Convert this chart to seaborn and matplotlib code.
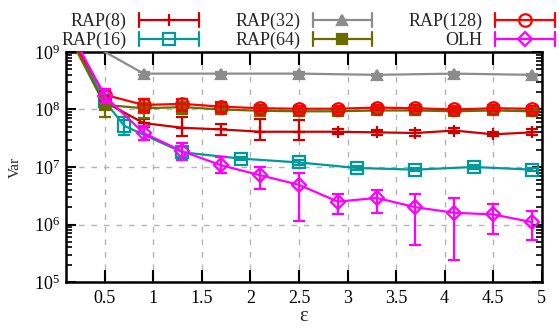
import numpy as np
import pandas as pd
import matplotlib
matplotlib.use("Agg")
import matplotlib.pyplot as plt
import seaborn as sns
from matplotlib.lines import Line2D
from matplotlib.legend_handler import HandlerBase
from matplotlib.ticker import LogLocator, NullFormatter, FuncFormatter, FixedLocator

# ---- data -------------------------------------------------------------
eps_04 = [0.1, 0.5, 0.9, 1.3, 1.7, 2.1, 2.5, 2.9, 3.3, 3.7, 4.1, 4.5, 4.9]
eps_16 = [0.1, 0.5, 0.7, 1.3, 1.9, 2.5, 3.1, 3.7, 4.3, 4.9]
eps_32 = [0.1, 0.9, 1.7, 2.5, 3.3, 4.1, 4.9]

rap8_var = [2.5e9, 1.35e8, 5.8e7, 4.8e7, 4.5e7, 4.1e7, 4.1e7, 4.1e7, 4.0e7, 3.9e7, 4.3e7, 3.7e7, 4.0e7]
rap8_lo  = [2.3e9, 1.1e8, 5.0e7, 3.4e7, 3.6e7, 3.0e7, 3.0e7, 3.7e7, 3.6e7, 3.5e7, 3.9e7, 3.4e7, 3.6e7]
rap8_hi  = [2.7e9, 1.6e8, 6.8e7, 7.3e7, 5.6e7, 6.8e7, 6.5e7, 4.5e7, 4.4e7, 4.4e7, 4.8e7, 4.1e7, 4.5e7]

rap16_var = [2.6e9, 1.4e8, 5.2e7, 1.8e7, 1.4e7, 1.2e7, 9.6e6, 9.0e6, 1.0e7, 9.0e6]
rap16_lo  = [2.4e9, 1.1e8, 3.6e7, 1.5e7, 1.3e7, 1.1e7, 8.9e6, 8.4e6, 9.3e6, 8.4e6]
rap16_hi  = [2.8e9, 1.7e8, 7.5e7, 2.2e7, 1.5e7, 1.3e7, 1.03e7, 9.7e6, 1.08e7, 9.7e6]

rap32_var = [2.4e9, 4.2e8, 4.2e8, 4.2e8, 4.0e8, 4.2e8, 4.0e8]
rap32_lo  = [2.3e9, 4.0e8, 4.0e8, 4.0e8, 3.8e8, 4.0e8, 3.8e8]
rap32_hi  = [2.5e9, 4.4e8, 4.4e8, 4.4e8, 4.2e8, 4.4e8, 4.2e8]

rap64_var = [2.4e9, 1.2e8, 1.05e8, 1.1e8, 1.0e8, 9.5e7, 9.3e7, 9.3e7, 9.6e7, 9.6e7, 9.3e7, 9.6e7, 9.3e7]
rap64_lo  = [2.2e9, 7.5e7, 7.0e7, 8.5e7, 8.5e7, 8.5e7, 8.4e7, 8.4e7, 8.7e7, 8.7e7, 8.4e7, 8.7e7, 8.4e7]
rap64_hi  = [2.6e9, 1.7e8, 1.5e8, 1.35e8, 1.15e8, 1.05e8, 1.03e8, 1.03e8, 1.06e8, 1.06e8, 1.03e8, 1.06e8, 1.03e8]

rap128_var = [2.5e9, 1.8e8, 1.2e8, 1.25e8, 1.12e8, 1.05e8, 1.03e8, 1.03e8, 1.08e8, 1.05e8, 1.0e8, 1.05e8, 1.03e8]
rap128_lo  = [2.3e9, 1.4e8, 9.0e7, 9.5e7, 9.0e7, 9.3e7, 9.2e7, 9.2e7, 9.6e7, 9.3e7, 8.9e7, 9.3e7, 9.2e7]
rap128_hi  = [2.7e9, 2.2e8, 1.5e8, 1.55e8, 1.35e8, 1.18e8, 1.16e8, 1.16e8, 1.21e8, 1.18e8, 1.12e8, 1.18e8, 1.16e8]

olh_var = [3.2e9, 1.7e8, 3.9e7, 1.87e7, 1.07e7, 7.2e6, 4.9e6, 2.5e6, 2.9e6, 2.0e6, 1.6e6, 1.5e6, 1.1e6]
olh_lo  = [2.9e9, 1.3e8, 3.0e7, 1.3e7, 7.8e6, 4.1e6, 1.15e6, 1.55e6, 1.6e6, 4.4e5, 2.4e5, 6.8e5, 5.4e5]
olh_hi  = [3.5e9, 2.3e8, 5.1e7, 2.6e7, 1.5e7, 1.0e7, 7.9e6, 3.4e6, 4.0e6, 3.4e6, 2.9e6, 2.3e6, 1.7e6]

labels = ["RAP(8)", "RAP(16)", "RAP(32)", "RAP(64)", "RAP(128)", "OLH"]
x_ticks = [0.5, 1, 1.5, 2, 2.5, 3, 3.5, 4, 4.5, 5]
x_tick_labels = ["0.5", "1", "1.5", "2", "2.5", "3", "3.5", "4", "4.5", "5"]

# ---- styling ----------------------------------------------------------
sns.set_theme(style="ticks")
plt.rcParams["font.family"] = ["Liberation Serif", "DejaVu Serif"]
plt.rcParams["mathtext.default"] = "regular"

LW = 1.6
styles = {
    "RAP(8)":   dict(color="#cc0000", marker="+", ms=9,   mfc="#cc0000"),
    "RAP(16)":  dict(color="#009a9a", marker="s", ms=8,   mfc="none"),
    "RAP(32)":  dict(color="#8c8c8c", marker="^", ms=6.5, mfc="#8c8c8c"),
    "RAP(64)":  dict(color="#6b6b00", marker="s", ms=7,   mfc="#6b6b00"),
    "RAP(128)": dict(color="#ff0000", marker="o", ms=9,   mfc="none"),
    "OLH":      dict(color="#ff00ff", marker="D", ms=7.5, mfc="none"),
}

series = [
    ("RAP(8)", eps_04, rap8_var, rap8_lo, rap8_hi),
    ("RAP(16)", eps_16, rap16_var, rap16_lo, rap16_hi),
    ("RAP(32)", eps_32, rap32_var, rap32_lo, rap32_hi),
    ("RAP(64)", eps_04, rap64_var, rap64_lo, rap64_hi),
    ("RAP(128)", eps_04, rap128_var, rap128_lo, rap128_hi),
    ("OLH", eps_04, olh_var, olh_lo, olh_hi),
]

fig = plt.figure(figsize=(5.59, 3.33), dpi=100)
ax = fig.add_axes([0.118, 0.153, 0.851, 0.691])
ax.set_yscale("log")

handles = []
for z, (name, xs, ys, lo, hi) in enumerate(series):
    st = styles[name]
    df = pd.DataFrame({"eps": xs, "var": ys})
    sns.lineplot(data=df, x="eps", y="var", ax=ax, color=st["color"], lw=LW,
                 marker=st["marker"], markersize=st["ms"],
                 markerfacecolor=st["mfc"], markeredgecolor=st["color"],
                 markeredgewidth=LW, errorbar=None, legend=False, zorder=3 + z)
    ys_a, lo_a, hi_a = np.array(ys), np.array(lo), np.array(hi)
    ax.errorbar(xs, ys, yerr=[ys_a - lo_a, hi_a - ys_a], fmt="none",
                ecolor=st["color"], elinewidth=LW, capsize=4.5, capthick=LW,
                zorder=3 + z)
    handles.append(Line2D([], [], color=st["color"], lw=LW, marker=st["marker"],
                          markersize=st["ms"], markerfacecolor=st["mfc"],
                          markeredgecolor=st["color"], markeredgewidth=LW))

ax.set_xlim(0.1, 5.0)
ax.set_ylim(1e5, 1e9)

ax.xaxis.set_major_locator(FixedLocator(x_ticks))
ax.set_xticklabels(x_tick_labels)
ax.yaxis.set_major_locator(LogLocator(base=10, numticks=10))
ax.yaxis.set_minor_locator(LogLocator(base=10, subs=np.arange(2, 10), numticks=20))
ax.yaxis.set_minor_formatter(NullFormatter())
ax.yaxis.set_major_formatter(FuncFormatter(lambda v, p: "$10^{%d}$" % round(np.log10(v))))

ax.tick_params(axis="both", which="both", direction="in", top=True, right=True,
               colors="black", labelsize=13, width=1.5)
ax.tick_params(axis="x", which="major", length=9, pad=6)
ax.tick_params(axis="y", which="major", length=7, pad=4)
ax.tick_params(axis="y", which="minor", length=4, width=1.2)

for sp in ax.spines.values():
    sp.set_linewidth(1.8)
    sp.set_color("black")

ax.set_axisbelow(True)
ax.grid(True, which="major", color="#b4b4b4", lw=1.0, ls=(0, (4, 5)))

ax.set_xlabel("ε", fontsize=15, labelpad=0)
ax.set_ylabel("Var", fontsize=11, labelpad=9)


class ErrLineHandler(HandlerBase):
    def create_artists(self, legend, orig, xdescent, ydescent, width, height,
                       fontsize, trans):
        y = height / 2 - ydescent
        x0, x1 = -xdescent, -xdescent + width
        c = orig.get_color()
        half = height * 0.55
        arts = [Line2D([x0, x1], [y, y], color=c, lw=LW)]
        for xx in (x0, x1):
            arts.append(Line2D([xx, xx], [y - half, y + half], color=c, lw=LW))
        arts.append(Line2D([(x0 + x1) / 2], [y], ls="none", marker=orig.get_marker(),
                           markersize=orig.get_markersize(),
                           markerfacecolor=orig.get_markerfacecolor(),
                           markeredgecolor=c, markeredgewidth=LW))
        for a in arts:
            a.set_transform(trans)
        return arts


fig.legend(handles, labels, ncol=3, loc="upper right",
           bbox_to_anchor=(1.018, 1.005), frameon=False, markerfirst=False,
           handlelength=3.3, handletextpad=0.7, columnspacing=2.0,
           labelspacing=0.1, fontsize=13, borderpad=0.3,
           handler_map={Line2D: ErrLineHandler()})

fig.savefig("out.png", dpi=100)
